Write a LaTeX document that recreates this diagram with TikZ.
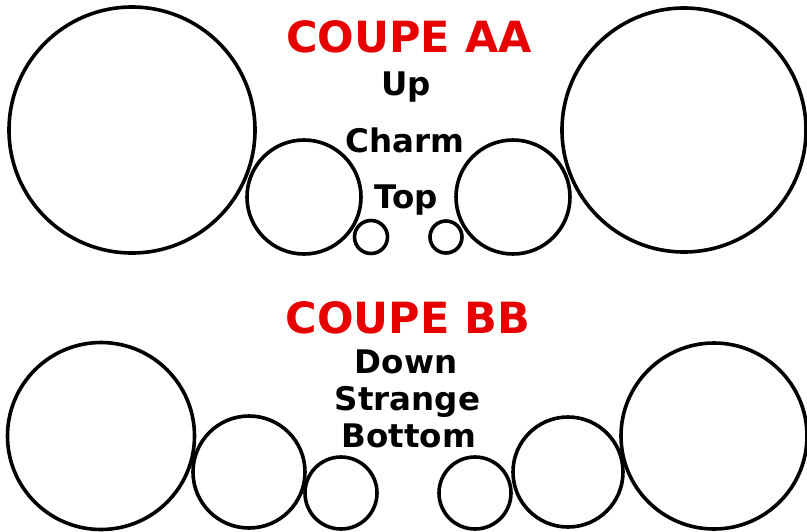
\documentclass[tikz,border=0pt]{standalone}
\usepackage{fontspec}
\setmainfont{DejaVu Sans}
\definecolor{titlered}{RGB}{230,0,0}
\begin{document}
\begin{tikzpicture}[x=1pt,y=-1pt,
  ring/.style={circle,draw=black,line width=3.6pt,inner sep=0pt,minimum size=#1},
  title/.style={anchor=base,text=titlered,font=\bfseries\fontsize{43}{43}\selectfont,inner sep=0pt},
  lbl/.style={anchor=base,text=black,font=\bfseries\fontsize{32.5}{32.5}\selectfont,inner sep=0pt}]
\useasboundingbox (0,0) rectangle (807,531);
% top row
\node[ring=246] (aL1) at (132,130) {};
\node[ring=114] (aL2) at (304,197) {};
\node[ring=33]  (aL3) at (371,237) {};
\node[ring=32]  (aR3) at (446,237) {};
\node[ring=114] (aR2) at (513,197) {};
\node[ring=244] (aR1) at (684,130) {};
% bottom row
\node[ring=187] (bL1) at (101,436) {};
\node[ring=112] (bL2) at (249,472) {};
\node[ring=72]  (bL3) at (341,493) {};
\node[ring=72]  (bR3) at (475,493) {};
\node[ring=110] (bR2) at (568,472) {};
\node[ring=186] (bR1) at (714,436) {};
% texts
\node[title] (ta) at (409,52) {COUPE AA};
\node[lbl] (up) at (406,95) {Up};
\node[lbl] (charm) at (405,152) {Charm};
\node[lbl] (top) at (406,208) {Top};
\node[title] (tb) at (408,333) {COUPE BB};
\node[lbl] (down) at (406,373) {Down};
\node[lbl] (strange) at (407.5,410) {Strange};
\node[lbl] (bottom) at (409,447) {Bottom};
\end{tikzpicture}
\end{document}
